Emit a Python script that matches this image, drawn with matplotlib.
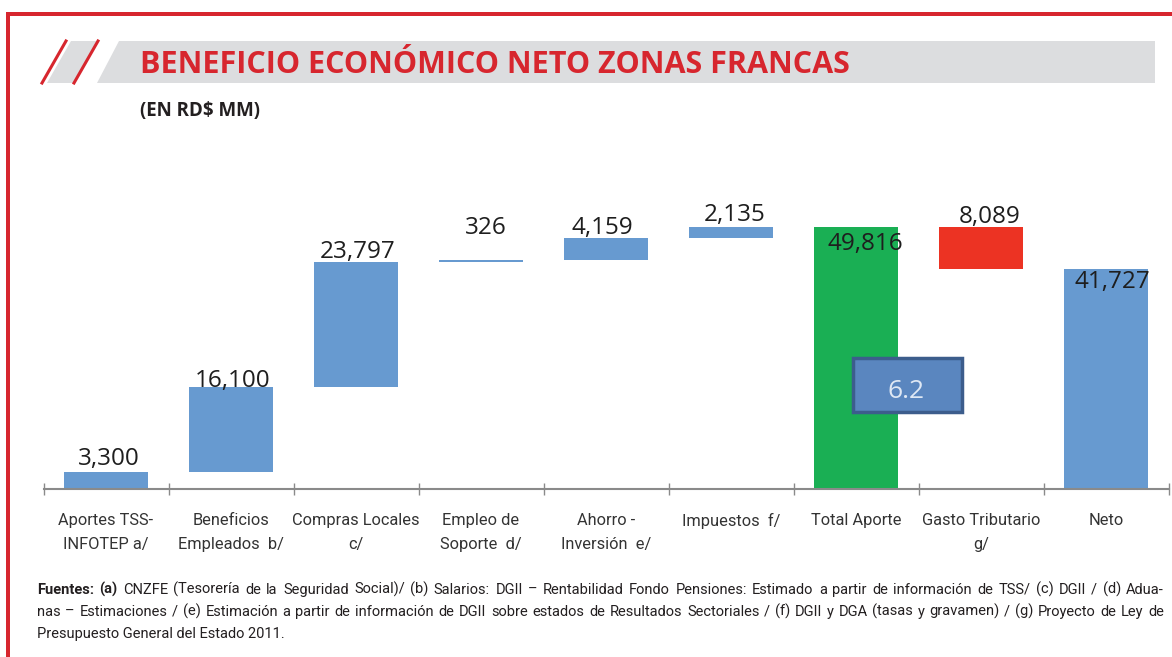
import numpy as np
import matplotlib
matplotlib.use("Agg")
import matplotlib.pyplot as plt
from matplotlib.patches import Polygon, Rectangle

# ---- datos (RD$ MM)
categorias = ["Aportes TSS-\nINFOTEP a/", "Beneficios\nEmpleados  b/", "Compras Locales\nc/",
              "Empleo de\nSoporte  d/", "Ahorro -\nInversión  e/", "Impuestos  f/",
              "Total Aporte", "Gasto Tributario\ng/", "Neto"]
aportes = [3300, 16100, 23797, 326, 4159, 2135]
total_aporte = 49816
gasto_tributario = 8089
neto = 41727
ratio_label = "6.2"

titulo = "BENEFICIO ECONÓMICO NETO ZONAS FRANCAS"
subtitulo = "(EN RD$ MM)"
fuentes = [
    "Fuentes: (a) CNZFE (Tesorería de la Seguridad Social)/ (b) Salarios: DGII – Rentabilidad Fondo Pensiones: "
    "Estimado a partir de información de TSS/ (c)  DGII / (d) Adua-",
    "nas – Estimaciones / (e) Estimación a partir de información de DGII sobre estados de Resultados "
    "Sectoriales / (f) DGII y DGA (tasas y gravamen) / (g) Proyecto de Ley de",
    "Presupuesto General del Estado 2011.",
]

# ---- estilos
W, H = 1172, 657
ROJO = "#d7262e"
AZUL = "#679ad0"
VERDE = "#1aaf54"
ROJO_BAR = "#ec3323"
NUM_FONT = ["Open Sans", "DejaVu Sans"]
CAT_FONT = ["Roboto", "DejaVu Sans"]
FOOT_FONT = ["Roboto", "DejaVu Sans"]

def fx(x):
    return x / W

def fy(y):
    return 1 - y / H

fig = plt.figure(figsize=(W / 100, H / 100), dpi=100)

# marco rojo
fig.add_artist(Rectangle((fx(6), fy(16)), 1, 4 / H, transform=fig.transFigure, color=ROJO, lw=0))
fig.add_artist(Rectangle((fx(6), 0), 4 / W, fy(12), transform=fig.transFigure, color=ROJO, lw=0))

# banda del titulo
GRIS = "#dcdddf"
fig.add_artist(Polygon([(fx(97), fy(83)), (fx(119), fy(41)), (fx(1155), fy(41)), (fx(1155), fy(83))],
                       closed=True, transform=fig.transFigure, color=GRIS, lw=0))
fig.add_artist(Polygon([(fx(47), fy(83)), (fx(71), fy(41)), (fx(98), fy(41)), (fx(74), fy(83))],
                       closed=True, transform=fig.transFigure, color=GRIS, lw=0))
for x0 in (42, 74):
    fig.add_artist(plt.Line2D([fx(x0), fx(x0 + 24)], [fy(83), fy(41)], transform=fig.transFigure,
                              color=ROJO, lw=2.2))

fig.text(fx(140), fy(73), titulo, color=ROJO, fontsize=22, fontweight="bold",
         family=NUM_FONT, va="baseline", ha="left")
fig.text(fx(140), fy(116), subtitulo, color="#231f20", fontsize=13.5, fontweight="bold",
         family=NUM_FONT, va="baseline", ha="left")

# ---- grafico cascada
ax = fig.add_axes([fx(43.5), fy(489), 1125 / W, 319 / H])
x = np.arange(len(categorias))
base_aportes = np.concatenate([[0], np.cumsum(aportes)[:-1]])
alturas = list(aportes) + [total_aporte, gasto_tributario, neto]
bases = list(base_aportes) + [0, total_aporte - gasto_tributario, 0]
colores = [AZUL] * len(aportes) + [VERDE, ROJO_BAR, AZUL]

ax.bar(x, alturas, bottom=bases, width=0.665, color=colores, lw=0)

# posicion de las etiquetas (pixeles respecto al tope de cada barra)
offsets = [(3, 13), (2, 6), (2, 10), (5, 32), (-4, 10), (4, 12), (9, -17), (9, 10), (6, -13)]
valores = list(aportes) + [total_aporte, gasto_tributario, neto]
for i, (v, b, h) in enumerate(zip(valores, bases, alturas)):
    dx, dy = offsets[i]
    ax.annotate(f"{v:,}", xy=(x[i], b + h), xytext=(dx, dy), textcoords="offset pixels",
                ha="center", va="center", fontsize=17.5, family=NUM_FONT, color="#1e1e1e")

ax.set_xlim(-0.5, len(categorias) - 0.5)
ax.set_ylim(0, 60600)
for s in ("left", "right", "top"):
    ax.spines[s].set_visible(False)
ax.spines["bottom"].set_color("#8a8a8a")
ax.spines["bottom"].set_linewidth(1.5)
ax.set_yticks([])
ax.set_xticks(x)
ax.set_xticklabels(categorias, family=CAT_FONT, fontsize=11.8, color="#333333", linespacing=1.8)
ax.set_xticks(np.arange(-0.5, len(categorias)), minor=True)
ax.tick_params(axis="x", which="major", length=0, pad=17)
ax.tick_params(axis="x", which="minor", length=8, direction="inout", color="#8a8a8a", width=1)

# recuadro 6.2
fig.add_artist(Rectangle((fx(853), fy(412)), 109 / W, 54 / H, transform=fig.transFigure,
                         facecolor="#5a86bf", edgecolor="#3c5d8c", lw=2.5))
fig.text(fx(906), fy(392), ratio_label, ha="center", va="center", fontsize=19,
         family=NUM_FONT, color="#dfe8f4")

# ---- fuentes (justificadas)
renderer = fig.canvas.get_renderer()

def linea_justificada(texto, y, x0, x1, n_bold=0):
    palabras = texto.split()
    objs = []
    for k, p in enumerate(palabras):
        t = fig.text(0, fy(y), p, fontsize=10.5, family=FOOT_FONT, color="#231f20",
                     fontweight="bold" if k < n_bold else "normal", va="baseline")
        objs.append(t)
    anchos = [t.get_window_extent(renderer).width for t in objs]
    hueco = (x1 - x0 - sum(anchos)) / (len(objs) - 1)
    pos = x0
    for t, a in zip(objs, anchos):
        t.set_x(fx(pos))
        pos += a + hueco

linea_justificada(fuentes[0], 594, 37, 1164, n_bold=2)
linea_justificada(fuentes[1], 616, 37, 1164)
fig.text(fx(37), fy(638), fuentes[2], fontsize=10.5, family=FOOT_FONT, color="#231f20", va="baseline")

fig.savefig("out.png", dpi=100)
